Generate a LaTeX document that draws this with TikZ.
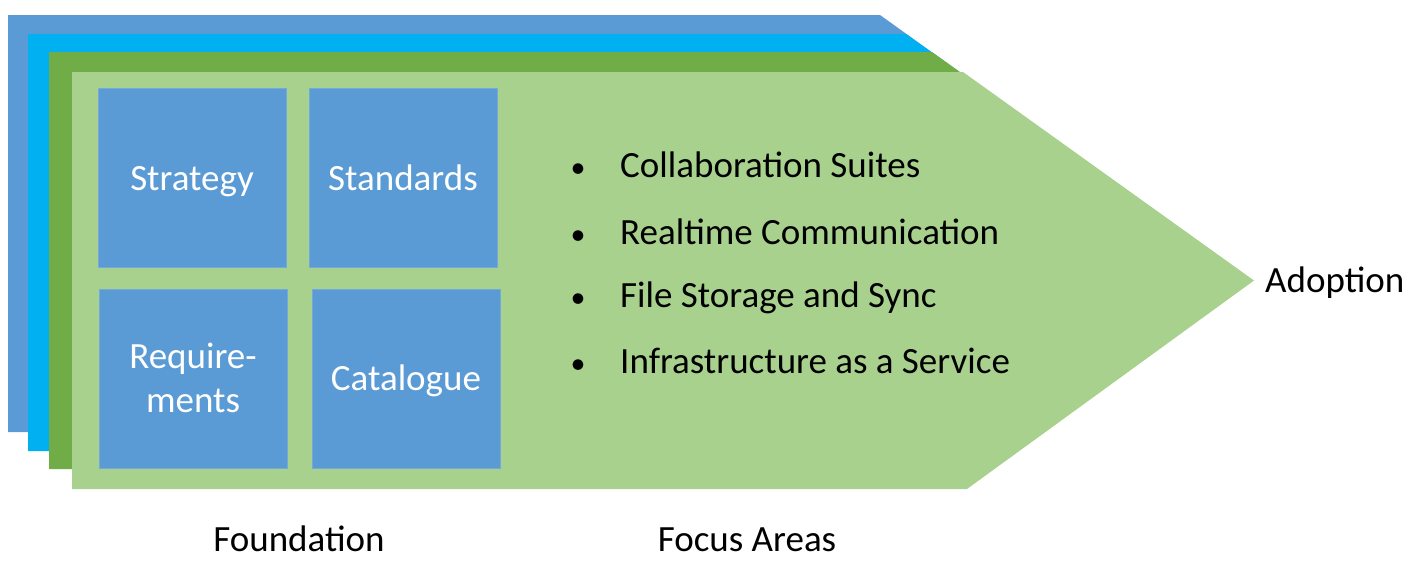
\documentclass[tikz,border=0pt]{standalone}
\usepackage{fontspec}
\setmainfont{Carlito}
\definecolor{cBlue}{HTML}{5B9BD5}
\definecolor{cCyan}{HTML}{00B0F0}
\definecolor{cGreen}{HTML}{70AD47}
\definecolor{cLight}{HTML}{A9D18E}
\newcommand\arrowlayer[4]{%
  \fill[#4] (#1,#2) -- (#3,#2) -- ({#3+291},{#2+208.5}) -- ({#3+4},{#2+417}) -- (#1,{#2+417}) -- cycle;}
\tikzset{
  txt/.style={font=\fontsize{37}{44}\selectfont, inner sep=0pt, text=black},
  box/.style={fill=cBlue, draw=cBlue!85!white, line width=0.8pt, anchor=north west, inner sep=0pt},
  boxtext/.style={txt, text=white, anchor=base},
  bullet/.style={txt, font=\fontsize{30}{36}\selectfont, anchor=base},
  item/.style={txt, anchor=base west},
}
\begin{document}
\begin{tikzpicture}[x=1pt,y=-1pt]
\useasboundingbox (0,0) rectangle (1422,560);
\arrowlayer{8}{15}{880}{cBlue}
\arrowlayer{28}{34}{906}{cCyan}
\arrowlayer{49}{52}{932}{cGreen}
\arrowlayer{72}{72}{963}{cLight}

\node[box, minimum width=188pt, minimum height=179pt] (strategyBox) at (98,88) {};
\node[box, minimum width=188pt, minimum height=179pt] (standardsBox) at (309,88) {};
\node[box, minimum width=188pt, minimum height=179pt] (requirementsBox) at (99,289) {};
\node[box, minimum width=188pt, minimum height=179pt] (catalogueBox) at (312,289) {};

\node[boxtext] (strategyText) at (192,190) {Strategy};
\node[boxtext] (standardsText) at (403,190) {Standards};
\node[boxtext] (req1) at (193,368) {Require-};
\node[boxtext] (req2) at (193,412) {ments};
\node[boxtext] (catalogueText) at (406,390) {Catalogue};

\node[bullet] (b1) at (578,177) {\textbullet};
\node[bullet] (b2) at (578,244) {\textbullet};
\node[bullet] (b3) at (578,307) {\textbullet};
\node[bullet] (b4) at (578,373) {\textbullet};
\node[item] (i1) at (620,177) {Collaboration Suites};
\node[item] (i2) at (620,244) {Realtime Communication};
\node[item] (i3) at (620,307) {File Storage and Sync};
\node[item] (i4) at (620,373) {Infrastructure as a Service};

\node[txt, anchor=base west] (adoption) at (1265,292) {Adoption};
\node[txt, anchor=base] (foundation) at (299,551) {Foundation};
\node[txt, anchor=base] (focus) at (747,551) {Focus Areas};
\end{tikzpicture}
\end{document}
